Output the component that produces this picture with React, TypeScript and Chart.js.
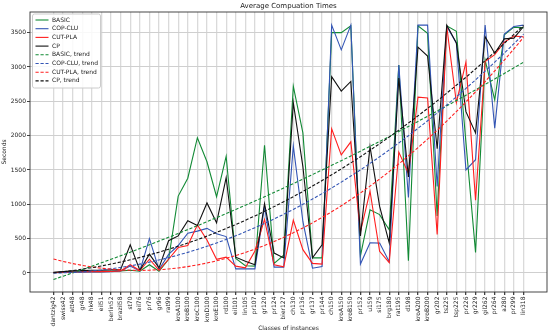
import React, { useEffect, useRef } from "react";
import { Chart, registerables } from "chart.js";

Chart.register(...registerables);

const FONT = "'DejaVu Sans', sans-serif";

const categories = [
  "dantzig42", "swiss42", "att48", "gr48", "hk48", "eil51", "berlin52", "brazil58", "st70", "eil76",
  "pr76", "gr96", "rat99", "kroA100", "kroB100", "kroC100", "kroD100", "kroE100", "rd100", "eil101",
  "lin105", "pr107", "gr120", "pr124", "bier127", "ch130", "pr136", "gr137", "pr144", "ch150",
  "kroA150", "kroB150", "pr152", "u159", "si175", "brg180", "rat195", "d198", "kroA200", "kroB200",
  "gr202", "ts225", "tsp225", "pr226", "gr229", "gil262", "pr264", "a280", "pr299", "lin318",
];

const basic = [
  5, 10, 15, 20, 20, 20, 25, 30, 40, 25,
  120, 25, 200, 1120, 1380, 1970, 1620, 1110, 1700, 210,
  105, 100, 1860, 140, 260, 2720, 2040, 220, 220, 3500,
  3500, 3600, 250, 920, 850, 630, 3030, 180, 3600, 3490,
  830, 3600, 3520, 1900, 300, 3100, 2520, 3470, 3580, 3570,
];

const copClu = [
  5, 8, 10, 12, 15, 15, 20, 30, 100, 30,
  500, 50, 270, 400, 580, 610, 650, 570, 530, 60,
  60, 60, 970, 85, 85, 1850, 750, 70, 95, 3610,
  3250, 3610, 130, 440, 435, 165, 3030, 1100, 3610, 3610,
  1260, 3590, 3350, 1500, 1650, 3610, 2110, 3480, 3590, 3610,
];

const cutPla = [
  5, 10, 15, 18, 20, 20, 22, 30, 120, 35,
  200, 40, 200, 370, 400, 700, 480, 200, 230, 100,
  75, 320, 780, 120, 90, 770, 340, 140, 130, 2100,
  1720, 1910, 600, 1190, 316, 150, 1760, 1450, 2560, 2550,
  560, 3590, 2480, 3070, 1060, 3080, 3180, 3360, 3450, 3440,
];

const cp = [
  10, 20, 30, 35, 40, 40, 45, 50, 410, 40,
  275, 75, 470, 540, 760, 690, 1020, 730, 1390, 230,
  170, 120, 1010, 290, 220, 2480, 1550, 220, 410, 2860,
  2650, 2790, 540, 1840, 970, 440, 2840, 1400, 3290, 3160,
  1810, 3610, 3350, 2350, 2040, 3440, 3200, 3410, 3420, 3590,
];

const yTicks = [0, 500, 1000, 1500, 2000, 2500, 3000, 3500];

// least squares quadratic fit (like numpy.polyfit deg 2) against category index
function quadTrend(ys: number[]): number[] {
  const n = ys.length;
  const S = [0, 0, 0, 0, 0];
  const T = [0, 0, 0];
  for (let i = 0; i < n; i++) {
    let p = 1;
    for (let k = 0; k < 5; k++) {
      S[k] += p;
      if (k < 3) T[k] += p * ys[i];
      p *= i;
    }
  }
  const A = [
    [S[0], S[1], S[2], T[0]],
    [S[1], S[2], S[3], T[1]],
    [S[2], S[3], S[4], T[2]],
  ];
  for (let c = 0; c < 3; c++) {
    for (let r = c + 1; r < 3; r++) {
      const f = A[r][c] / A[c][c];
      for (let k = c; k < 4; k++) A[r][k] -= f * A[c][k];
    }
  }
  const coef = [0, 0, 0];
  for (let r = 2; r >= 0; r--) {
    let s = A[r][3];
    for (let k = r + 1; k < 3; k++) s -= A[r][k] * coef[k];
    coef[r] = s / A[r][r];
  }
  return ys.map((_, i) => coef[0] + coef[1] * i + coef[2] * i * i);
}

const GREEN = "#128a35";
const BLUE = "#3355b5";
const RED = "#ff1f1f";
const BLACK = "#111111";

const series = [
  { label: "BASIC", values: basic, color: GREEN },
  { label: "COP-CLU", values: copClu, color: BLUE },
  { label: "CUT-PLA", values: cutPla, color: RED },
  { label: "CP", values: cp, color: BLACK },
];

const DASH = [3.2, 1.8];

export default function App() {
  const ref = useRef<HTMLCanvasElement | null>(null);

  useEffect(() => {
    if (!ref.current) return;

    const datasets: any[] = [];
    series.forEach((s) => {
      datasets.push({
        label: s.label,
        data: s.values.map((v, i) => ({ x: i, y: v })),
        borderColor: s.color,
        backgroundColor: s.color,
        borderWidth: 1.1,
        pointRadius: 0,
        fill: false,
        tension: 0,
      });
    });
    series.forEach((s) => {
      const tr = quadTrend(s.values);
      datasets.push({
        label: s.label + ", trend",
        data: tr.map((v, i) => ({ x: i, y: v })),
        borderColor: s.color,
        backgroundColor: s.color,
        borderWidth: 1.1,
        borderDash: DASH,
        pointRadius: 0,
        fill: false,
        tension: 0,
      });
    });
    datasets.forEach((d, i) => (d.order = datasets.length - i));

    const framePlugin = {
      id: "frameAndLegend",
      afterDraw(chart: any) {
        // vertical category labels (bottom-to-top, ending at the tick)
        const { ctx, chartArea } = chart;
        const xs = chart.scales.x;
        ctx.save();
        ctx.font = `6px ${FONT}`;
        ctx.fillStyle = "#222222";
        ctx.textAlign = "right";
        ctx.textBaseline = "middle";
        categories.forEach((c, i) => {
          const px = xs.getPixelForValue(i);
          ctx.save();
          ctx.translate(px, chartArea.bottom + 4.5);
          ctx.rotate(-Math.PI / 2);
          ctx.fillText(c, 0, 0);
          ctx.restore();
        });
        ctx.restore();
      },
      afterDatasetsDraw(chart: any) {
        const { ctx, chartArea } = chart;
        ctx.save();
        ctx.strokeStyle = "#333333";
        ctx.lineWidth = 0.9;
        ctx.setLineDash([]);
        ctx.strokeRect(chartArea.left, chartArea.top, chartArea.right - chartArea.left, chartArea.bottom - chartArea.top);

        // legend (upper-left, inside axes)
        const bx = chartArea.left + 2.5;
        const by = chartArea.top + 2;
        const bw = 68;
        const bh = 74;
        ctx.fillStyle = "rgba(255,255,255,0.85)";
        ctx.strokeStyle = "#cccccc";
        ctx.lineWidth = 1;
        ctx.beginPath();
        if ((ctx as any).roundRect) (ctx as any).roundRect(bx, by, bw, bh, 2);
        else ctx.rect(bx, by, bw, bh);
        ctx.fill();
        ctx.stroke();

        ctx.font = `6px ${FONT}`;
        ctx.textBaseline = "middle";
        ctx.textAlign = "left";
        chart.data.datasets.forEach((d: any, k: number) => {
          const y = by + 6 + k * 8.7;
          ctx.strokeStyle = d.borderColor;
          ctx.lineWidth = 1.1;
          ctx.setLineDash(d.borderDash || []);
          ctx.beginPath();
          ctx.moveTo(bx + 3, y);
          ctx.lineTo(bx + 16, y);
          ctx.stroke();
          ctx.setLineDash([]);
          ctx.fillStyle = "#222222";
          ctx.fillText(d.label, bx + 19.5, y);
        });
        ctx.restore();
      },
    };

    const chart = new Chart(ref.current, {
      type: "line",
      data: { datasets },
      plugins: [framePlugin],
      options: {
        animation: false,
        responsive: false,
        layout: { padding: { left: 0, right: 3, top: 0, bottom: 0 } },
        plugins: {
          legend: { display: false },
          tooltip: { enabled: false },
          title: {
            display: true,
            text: "Average Compuation Times",
            fullSize: false,
            color: "#222222",
            font: { family: FONT, size: 7, weight: "normal", lineHeight: 1.2 },
            padding: { top: 2, bottom: 1.6 },
          },
        },
        scales: {
          x: {
            type: "linear",
            min: -2.45,
            max: 51.45,
            afterBuildTicks: (s: any) => {
              s.ticks = categories.map((_, i) => ({ value: i }));
            },
            afterFit: (s: any) => {
              s.height = 44;
            },
            ticks: {
              display: false,
              autoSkip: false,
            },
            grid: {
              color: "#dadada",
              lineWidth: 1.3,
              tickLength: 3,
              tickColor: "#444444",
              drawTicks: true,
            },
            border: { display: false },
            title: {
              display: true,
              text: "Classes of instances",
              color: "#222222",
              font: { family: FONT, size: 6 },
              padding: { top: 0, bottom: 4 },
            },
          },
          y: {
            type: "linear",
            min: -277,
            max: 3801,
            afterBuildTicks: (s: any) => {
              s.ticks = yTicks.map((v) => ({ value: v }));
            },
            afterFit: (s: any) => {
              s.width = 30;
            },
            ticks: {
              padding: 1,
              color: "#222222",
              font: { family: FONT, size: 6 },
              callback: (v: any) => String(v),
            },
            grid: {
              color: "#cfcfcf",
              lineWidth: 1,
              tickLength: 3,
              tickColor: "#444444",
              drawTicks: true,
            },
            border: { display: false },
            title: {
              display: true,
              text: "Seconds",
              color: "#222222",
              font: { family: FONT, size: 6 },
              padding: { top: 1, bottom: 0 },
            },
          },
        },
      } as any,
    });

    return () => chart.destroy();
  }, []);

  return (
    <div style={{ position: "absolute", left: 0, top: 0, width: 550, height: 336, background: "#ffffff" }}>
      <canvas ref={ref} width={550} height={336} style={{ display: "block", width: 550, height: 336 }} />
    </div>
  );
}
